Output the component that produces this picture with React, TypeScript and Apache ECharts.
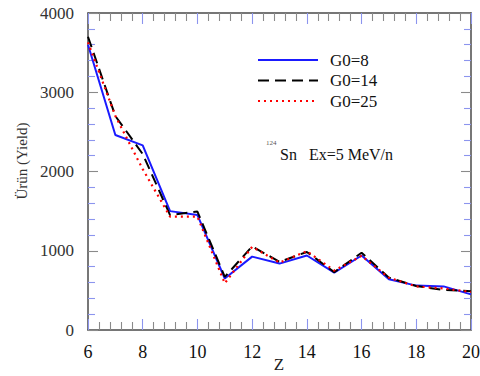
import React, { useEffect, useRef } from "react";
import * as echarts from "echarts";

const zValues = [6, 7, 8, 9, 10, 11, 12, 13, 14, 15, 16, 17, 18, 19, 20];
const g0_8 = [3600, 2460, 2330, 1500, 1450, 650, 926, 838, 940, 724, 940, 640, 560, 550, 450];
const g0_14 = [3700, 2700, 2220, 1450, 1495, 670, 1055, 860, 985, 730, 975, 660, 555, 505, 490];
const g0_25 = [3630, 2700, 2030, 1430, 1430, 590, 1050, 850, 995, 750, 935, 660, 550, 525, 480];
const seriesNames = ["G0=8", "G0=14", "G0=25"];
const seriesColors = ["#1a1aff", "#000000", "#ff0000"];
const seriesDash: (number[] | null)[] = [null, [11, 6], [2, 4]];

const X_MIN = 6;
const X_MAX = 20;
const X_STEP = 2;
const Y_MIN = 0;
const Y_MAX = 4000;
const Y_STEP = 1000;
const MINOR_SPLIT = 5;

const FONT = "Liberation Serif";
const BLUE_TICK = "#8c95ee";
const GRAY_TICK = "#8a8a8a";
const AXIS = "#4a4a4a";

export default function App() {
  const ref = useRef<HTMLDivElement>(null);
  useEffect(() => {
    if (!ref.current) return;
    const chart = echarts.init(ref.current, undefined, { renderer: "svg" });
    const pair = (arr: number[]) => arr.map((v, i) => [zValues[i], v]);

    const axisBase = (major: string, minor: string, majorLen: number, minorLen: number) => ({
      axisLine: { show: true, onZero: false, lineStyle: { color: AXIS, width: 1.5 } },
      axisTick: { show: true, inside: true, length: majorLen, lineStyle: { color: major, width: 1.1 } },
      minorTick: { show: true, splitNumber: MINOR_SPLIT, length: minorLen, lineStyle: { color: minor, width: 1.1 } },
      splitLine: { show: false },
      minorSplitLine: { show: false },
    });
    const xCommon = axisBase(BLUE_TICK, GRAY_TICK, 11, 8);
    const yCommon = axisBase(GRAY_TICK, BLUE_TICK, 10, 7);

    const legendTop = 60;
    const legendGap = 20.5;
    const legendGraphics: any[] = [];
    seriesNames.forEach((name, i) => {
      const y = legendTop + i * legendGap;
      legendGraphics.push({
        type: "line",
        shape: { x1: 258, y1: y, x2: 318, y2: y },
        style: { stroke: seriesColors[i], lineWidth: 2, lineDash: seriesDash[i] || undefined },
      });
      legendGraphics.push({
        type: "text",
        x: 330,
        y: y,
        style: { text: name, fontFamily: FONT, fontSize: 17, fill: "#111", align: "left", verticalAlign: "middle" },
      });
    });

    chart.setOption({
      animation: false,
      backgroundColor: "#ffffff",
      textStyle: { fontFamily: FONT },
      grid: { left: 88, right: 9, top: 13, bottom: 46, containLabel: false, outerBoundsMode: "none" },
      xAxis: [
        {
          type: "value",
          min: X_MIN,
          max: X_MAX,
          interval: X_STEP,
          position: "bottom",
          ...xCommon,
          axisLabel: { show: true, margin: 13, fontFamily: FONT, fontSize: 18, color: "#111" },
        },
        { type: "value", min: X_MIN, max: X_MAX, interval: X_STEP, position: "top", ...xCommon, axisLabel: { show: false } },
      ],
      yAxis: [
        {
          type: "value",
          min: Y_MIN,
          max: Y_MAX,
          interval: Y_STEP,
          position: "left",
          ...yCommon,
          axisLabel: {
            show: true,
            margin: 14,
            fontFamily: FONT,
            fontSize: 17,
            color: "#333",
            formatter: (v: number) => String(v),
          },
        },
        { type: "value", min: Y_MIN, max: Y_MAX, interval: Y_STEP, position: "right", ...yCommon, axisLabel: { show: false } },
      ],
      graphic: [
        ...legendGraphics,
        {
          type: "text",
          x: 279,
          y: 364,
          style: { text: "Z", fontFamily: FONT, fontSize: 17, fill: "#222", align: "center", verticalAlign: "middle" },
        },
        {
          type: "text",
          x: 22,
          y: 161,
          rotation: Math.PI / 2,
          style: { text: "Ürün (Yield)", fontFamily: FONT, fontSize: 15, fill: "#333", align: "center", verticalAlign: "middle" },
        },
        {
          type: "text",
          x: 266,
          y: 143,
          style: { text: "124", fontFamily: FONT, fontSize: 7, fill: "#555", align: "left", verticalAlign: "middle" },
        },
        {
          type: "text",
          x: 280,
          y: 154,
          style: { text: "Sn   Ex=5 MeV/n", fontFamily: FONT, fontSize: 16, fill: "#111", align: "left", verticalAlign: "middle" },
        },
      ],
      series: seriesNames.map((name, i) => ({
        name,
        type: "line",
        xAxisIndex: 0,
        yAxisIndex: 0,
        data: pair([g0_8, g0_14, g0_25][i]),
        symbol: "none",
        lineStyle: { color: seriesColors[i], width: i === 2 ? 2.2 : 2, type: seriesDash[i] || "solid" },
        itemStyle: { color: seriesColors[i] },
      })),
    });
    return () => chart.dispose();
  }, []);
  return (
    <div ref={ref} style={{ position: "fixed", left: 0, top: 0, width: 480, height: 376, background: "#fff" }} />
  );
}
